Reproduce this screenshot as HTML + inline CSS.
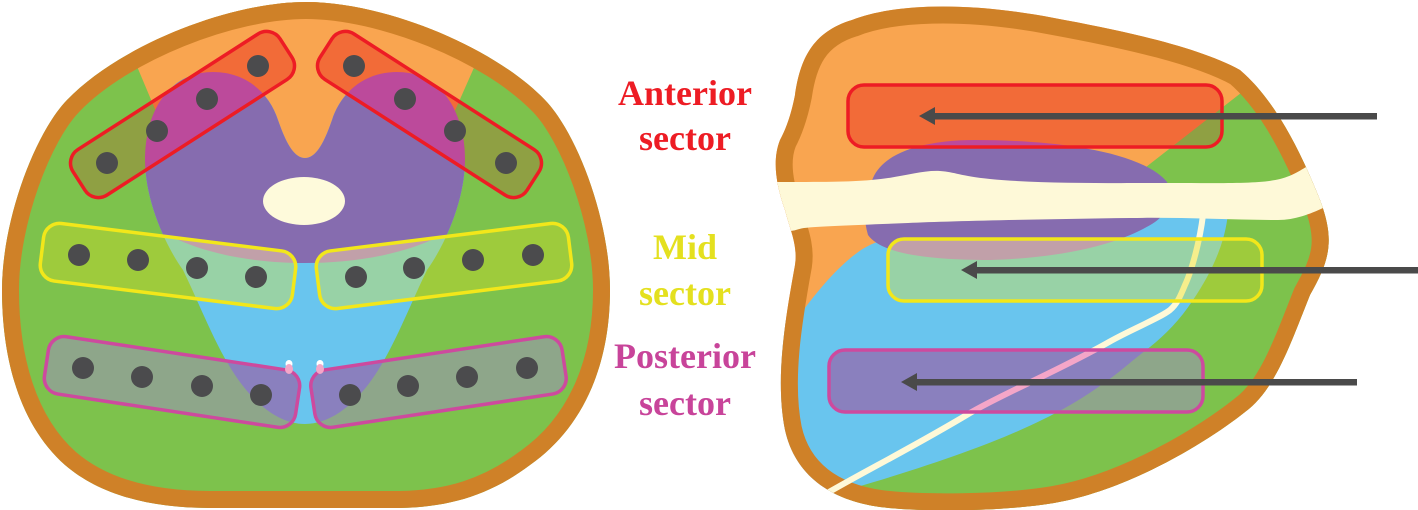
<!DOCTYPE html>
<html><head><meta charset="utf-8"><style>html,body{margin:0;padding:0;background:#fff}svg{display:block}</style></head>
<body>
<svg xmlns="http://www.w3.org/2000/svg" xmlns:xlink="http://www.w3.org/1999/xlink" width="1418" height="510" viewBox="0 0 1418 510">
<defs>
<path id="Lout" d="M306 2 C382 2,492 45,545 100 C577 133,610 220,610 290 C610 370,580 430,530 465 C490 495,450 507,400 508 L210 508 C150 508,100 495,65 465 C20 425,2 360,2 290 C2 220,35 133,67 100 C120 45,230 2,306 2 Z"/>
<path id="Ltear" d="M305 158 C293 158,285 140,278 120 C270 95,248 72,213 72 C170 72,145 110,145 160 C145 200,165 245,183 270 C200 305,215 345,235 375 C255 405,280 424,305 424 C330 424,355 405,375 375 C395 345,410 305,427 270 C445 245,465 200,465 160 C465 110,440 72,397 72 C362 72,340 95,332 120 C325 140,317 158,305 158 Z"/>
<polygon id="Lorange" points="128,45 168,140 305,175 442,140 484,45 484,-5 128,-5"/>
<clipPath id="Lclip"><use xlink:href="#Lout"/></clipPath>
<clipPath id="Lpurp"><path d="M100 0 L520 0 L520 232 L440 236 C400 256 350 263 305 263 C260 263 210 256 170 236 L100 232 Z"/></clipPath>
<clipPath id="cLR">
<rect x="-123" y="-27" width="246" height="54" rx="16" transform="translate(182.5 114.5) rotate(-32.7)"/>
<rect x="-123" y="-27" width="246" height="54" rx="16" transform="translate(429.5 114.5) rotate(32.7)"/>
</clipPath>
<clipPath id="cLY">
<rect x="-127" y="-29" width="254" height="58" rx="16" transform="translate(168 266) rotate(7.1)"/>
<rect x="-127" y="-29" width="254" height="58" rx="16" transform="translate(444 266) rotate(-7.1)"/>
</clipPath>
<clipPath id="cLP">
<rect x="-127" y="-29" width="254" height="58" rx="16" transform="translate(172 382) rotate(8.6)"/>
<rect x="-127" y="-29" width="254" height="58" rx="16" transform="translate(438.5 382) rotate(-8.6)"/>
</clipPath>

<path id="Rout" d="M852 20 C890 5,960 0,1054 18 C1130 32,1200 48,1240 70 C1275 100,1300 150,1320 200 C1335 240,1330 260,1310 295 C1290 345,1275 390,1245 412 C1210 440,1130 490,1054 503 C1000 512,920 512,880 507 C830 500,795 475,785 430 C775 380,785 320,795 265 C798 245,790 230,785 210 C776 185,772 160,780 140 C788 125,792 110,795 95 C800 60,812 32,852 20 Z"/>
<polygon id="Rgreen" points="1264,75 1420,75 1420,520 790,520 1000,400 1150,260 1123,185"/>
<path id="Rblue" d="M770 325 L798 317 C815 295,835 268,861 250 C880 238,905 232,950 229 L1228 213 C1225 245,1210 275,1193 300 C1180 320,1165 335,1150 347 C1130 362,1120 372,1104 383 C1060 415,1000 445,857 487 L830 500 L770 500 Z"/>
<path id="Rpurp" d="M873 178 C885 150,930 140,975 140 C1050 140,1140 150,1167 182 C1175 200,1165 215,1155 222 C1120 245,1060 258,990 260 C920 260,880 252,868 235 C862 215,865 195,873 178 Z"/>
<path id="Rband" d="M760 183 L775 182 C820 182,850 182,871 180 C900 178,920 170,940 171 C955 172,960 176,990 179 C1040 184,1120 183,1170 183 C1220 183,1260 184,1280 179 C1295 175,1300 170,1310 165 L1345 160 L1345 210 L1323 208 C1310 214,1295 220,1278 220 C1230 220,1180 217,1130 218 C1050 219,950 221,908 223 C860 225,820 226,804 228 C798 229,794 231,790 231 L760 233 Z"/>
<path id="Rline" fill="none" stroke-width="6" d="M1203 215 C1200 240,1192 270,1185 285 C1180 297,1177 304,1170 310 C1160 318,1130 330,1109 342 C1060 370,1000 395,970 413 C900 455,850 478,795 512"/>
<clipPath id="Rclip"><use xlink:href="#Rout"/></clipPath>
<clipPath id="cRR"><rect x="848" y="85" width="374" height="62" rx="16"/></clipPath>
<clipPath id="cRY"><rect x="888" y="239" width="374" height="62" rx="16"/></clipPath>
<clipPath id="cRP"><rect x="829" y="350" width="374" height="62" rx="16"/></clipPath>
</defs>

<rect x="0" y="0" width="1418" height="510" fill="#ffffff"/>

<!-- LEFT DIAGRAM -->
<g clip-path="url(#Lclip)">
  <rect x="0" y="0" width="620" height="510" fill="#7DC24C"/>
  <use xlink:href="#Lorange" fill="#F9A550"/>
  <use xlink:href="#Ltear" fill="#69C5EE"/>
  <use xlink:href="#Ltear" fill="#866CAF" clip-path="url(#Lpurp)"/>
  <ellipse cx="304" cy="201" rx="41" ry="24" fill="#FEFADB"/>
  <use xlink:href="#Lout" fill="none" stroke="#CF8128" stroke-width="34"/>
  <g clip-path="url(#cLR)">
    <rect x="0" y="0" width="620" height="510" fill="#8FA043"/>
    <use xlink:href="#Lorange" fill="#F26B38"/>
    <use xlink:href="#Ltear" fill="#BC4A9B"/>
  </g>
  <g clip-path="url(#cLY)">
    <rect x="0" y="0" width="620" height="510" fill="#9ECB3C"/>
    <use xlink:href="#Ltear" fill="#98D2A6"/>
    <use xlink:href="#Ltear" fill="#C1A0A9" clip-path="url(#Lpurp)"/>
  </g>
  <g clip-path="url(#cLP)">
    <rect x="0" y="0" width="620" height="510" fill="#8EA68A"/>
    <use xlink:href="#Ltear" fill="#8A80BE"/>
  </g>
</g>
<g fill="none" stroke-width="3.5">
  <rect x="-123" y="-27" width="246" height="54" rx="16" transform="translate(182.5 114.5) rotate(-32.7)" stroke="#ED1C24"/>
  <rect x="-123" y="-27" width="246" height="54" rx="16" transform="translate(429.5 114.5) rotate(32.7)" stroke="#ED1C24"/>
  <rect x="-127" y="-29" width="254" height="58" rx="16" transform="translate(168 266) rotate(7.1)" stroke="#F2E71A"/>
  <rect x="-127" y="-29" width="254" height="58" rx="16" transform="translate(444 266) rotate(-7.1)" stroke="#F2E71A"/>
  <rect x="-127" y="-29" width="254" height="58" rx="16" transform="translate(172 382) rotate(8.6)" stroke="#CD4A9E"/>
  <rect x="-127" y="-29" width="254" height="58" rx="16" transform="translate(438.5 382) rotate(-8.6)" stroke="#CD4A9E"/>
</g>
<ellipse cx="289" cy="364" rx="3.5" ry="4" fill="#FFFFFF"/>
<ellipse cx="289" cy="369" rx="4" ry="5" fill="#F4A6C8"/>
<ellipse cx="320" cy="364" rx="3.5" ry="4" fill="#FFFFFF"/>
<ellipse cx="320" cy="369" rx="4" ry="5" fill="#F4A6C8"/>
<g fill="#4B4B4D">
  <circle cx="107" cy="163" r="11"/><circle cx="157" cy="131" r="11"/><circle cx="207" cy="99" r="11"/><circle cx="258" cy="66" r="11"/>
  <circle cx="354" cy="66" r="11"/><circle cx="405" cy="99" r="11"/><circle cx="455" cy="131" r="11"/><circle cx="506" cy="163" r="11"/>
  <circle cx="79" cy="255" r="11"/><circle cx="138" cy="260" r="11"/><circle cx="197" cy="268" r="11"/><circle cx="256" cy="277" r="11"/>
  <circle cx="356" cy="277" r="11"/><circle cx="414" cy="268" r="11"/><circle cx="473" cy="260" r="11"/><circle cx="533" cy="255" r="11"/>
  <circle cx="83" cy="368" r="11"/><circle cx="142" cy="377" r="11"/><circle cx="202" cy="386" r="11"/><circle cx="261" cy="395" r="11"/>
  <circle cx="350" cy="395" r="11"/><circle cx="408" cy="386" r="11"/><circle cx="467" cy="377" r="11"/><circle cx="527" cy="368" r="11"/>
</g>

<!-- LABELS -->
<g font-family="'Liberation Serif', 'DejaVu Serif', serif" font-weight="bold" font-size="36" text-anchor="middle">
  <text x="685" y="105" fill="#ED1C24">Anterior</text>
  <text x="685" y="150" fill="#ED1C24">sector</text>
  <text x="685" y="259" fill="#E4E01F">Mid</text>
  <text x="685" y="305" fill="#E4E01F">sector</text>
  <text x="685" y="368" fill="#C8449A">Posterior</text>
  <text x="685" y="415" fill="#C8449A">sector</text>
</g>

<!-- RIGHT DIAGRAM -->
<g clip-path="url(#Rclip)">
  <rect x="760" y="0" width="658" height="510" fill="#F9A550"/>
  <use xlink:href="#Rgreen" fill="#7DC24C"/>
  <use xlink:href="#Rblue" fill="#69C5EE"/>
  <use xlink:href="#Rpurp" fill="#866CAF"/>
  <use xlink:href="#Rout" fill="none" stroke="#CF8128" stroke-width="34"/>
  <use xlink:href="#Rband" fill="#FEF9D8"/>
  <use xlink:href="#Rline" stroke="#FEF9D8"/>
  <g clip-path="url(#cRR)">
    <rect x="760" y="0" width="658" height="510" fill="#F26B38"/>
    <use xlink:href="#Rgreen" fill="#8FA043"/>
    <use xlink:href="#Rpurp" fill="#BC4A9B"/>
  </g>
  <g clip-path="url(#cRY)">
    <rect x="760" y="0" width="658" height="510" fill="#F9C870"/>
    <use xlink:href="#Rgreen" fill="#9ECB3C"/>
    <use xlink:href="#Rblue" fill="#98D2A6"/>
    <use xlink:href="#Rpurp" fill="#C1A0A9"/>
    <use xlink:href="#Rline" stroke="#F6EE8C"/>
  </g>
  <g clip-path="url(#cRP)">
    <rect x="760" y="0" width="658" height="510" fill="#D08A80"/>
    <use xlink:href="#Rgreen" fill="#8EA68A"/>
    <use xlink:href="#Rblue" fill="#8A80BE"/>
    <use xlink:href="#Rline" stroke="#F4A6C8"/>
  </g>
</g>
<g fill="none" stroke-width="3.5">
  <rect x="848" y="85" width="374" height="62" rx="16" stroke="#ED1C24"/>
  <rect x="888" y="239" width="374" height="62" rx="16" stroke="#F2E71A"/>
  <rect x="829" y="350" width="374" height="62" rx="16" stroke="#CD4A9E"/>
</g>

<!-- ARROWS -->
<g fill="#4A4A4A" stroke="none">
  <rect x="932" y="113" width="445" height="6.5"/>
  <polygon points="919,116 935,107 935,125"/>
  <rect x="974" y="267" width="450" height="6.5"/>
  <polygon points="961,270 977,261 977,279"/>
  <rect x="914" y="379" width="443" height="6.5"/>
  <polygon points="901,382 917,373 917,391"/>
</g>
</svg>
</body></html>
